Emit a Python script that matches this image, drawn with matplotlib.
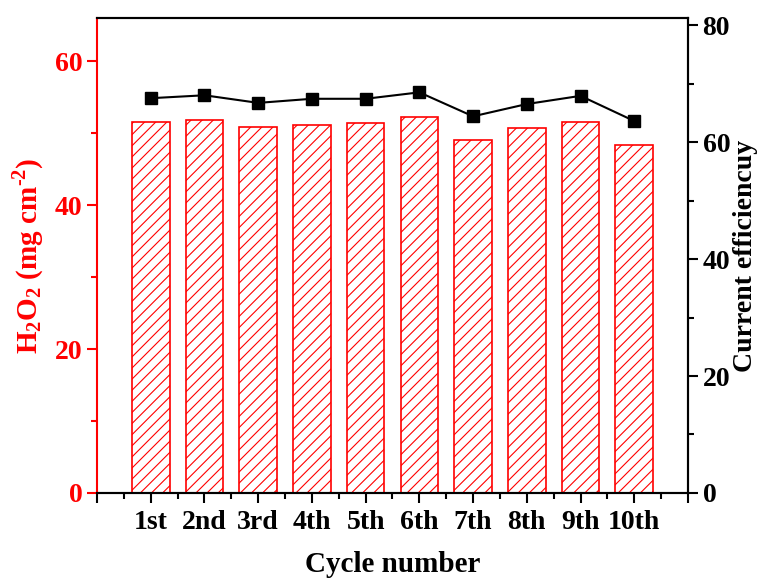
import matplotlib.pyplot as plt
from matplotlib.ticker import MultipleLocator

plt.rcParams['font.family'] = ['Liberation Serif', 'DejaVu Serif']
plt.rcParams['font.weight'] = 'bold'
plt.rcParams['mathtext.fontset'] = 'custom'
plt.rcParams['mathtext.rm'] = 'Liberation Serif:bold'
plt.rcParams['mathtext.bf'] = 'Liberation Serif:bold'
plt.rcParams['hatch.color'] = 'red'
plt.rcParams['hatch.linewidth'] = 0.8

# data
cycles = ['1st', '2nd', '3rd', '4th', '5th', '6th', '7th', '8th', '9th', '10th']
h2o2 = [51.5, 51.8, 50.8, 51.2, 51.4, 52.2, 49.1, 50.7, 51.6, 48.4]
efficiency = [67.5, 68.0, 66.7, 67.4, 67.4, 68.5, 64.4, 66.5, 67.9, 63.6]

x = list(range(1, len(cycles) + 1))

fig = plt.figure(figsize=(7.61, 5.83), dpi=100)
ax = fig.add_axes([0.1275, 0.1544, 0.7765, 0.8146])

ax.bar(x, h2o2, width=0.7, color='white', edgecolor='red', hatch='///', linewidth=1.2)
ax.set_xlim(0, 11)
ax.set_ylim(0, 66)

ax.set_xticks(range(0, 12))
ax.set_xticklabels([''] + cycles + [''])
ax.xaxis.set_minor_locator(MultipleLocator(0.5))
ax.yaxis.set_major_locator(MultipleLocator(20))
ax.yaxis.set_minor_locator(MultipleLocator(10))

ax.tick_params(axis='x', which='major', direction='out', length=7, width=1.5, labelsize=20, pad=5)
ax.tick_params(axis='x', which='minor', direction='out', length=4, width=1.5)
ax.tick_params(axis='y', which='major', direction='out', length=7, width=1.5, colors='red', labelsize=20)
ax.tick_params(axis='y', which='minor', direction='out', length=4, width=1.5, colors='red')

for s in ax.spines.values():
    s.set_linewidth(1.5)
ax.spines['left'].set_color('red')

ax.set_xlabel('Cycle number', fontsize=21, fontweight='bold', labelpad=12)
ax.set_ylabel(r'$\mathrm{H_2O_2}$ (mg cm$^{\text{-}2}$)', fontsize=21, fontweight='bold', color='red', labelpad=6)

ax2 = ax.twinx()
ax2.plot(x, efficiency, color='black', marker='s', markersize=8, linewidth=1.5)
ax2.set_ylim(0, 81.2)
ax2.yaxis.set_major_locator(MultipleLocator(20))
ax2.yaxis.set_minor_locator(MultipleLocator(10))
ax2.tick_params(axis='y', which='major', direction='out', length=7, width=1.5, labelsize=20)
ax2.tick_params(axis='y', which='minor', direction='out', length=4, width=1.5)
ax2.spines['left'].set_visible(False)
for s in ax2.spines.values():
    s.set_linewidth(1.5)
ax2.set_ylabel('Current efficiencuy', fontsize=20, fontweight='bold', labelpad=2)

fig.savefig('out.png', dpi=100)
